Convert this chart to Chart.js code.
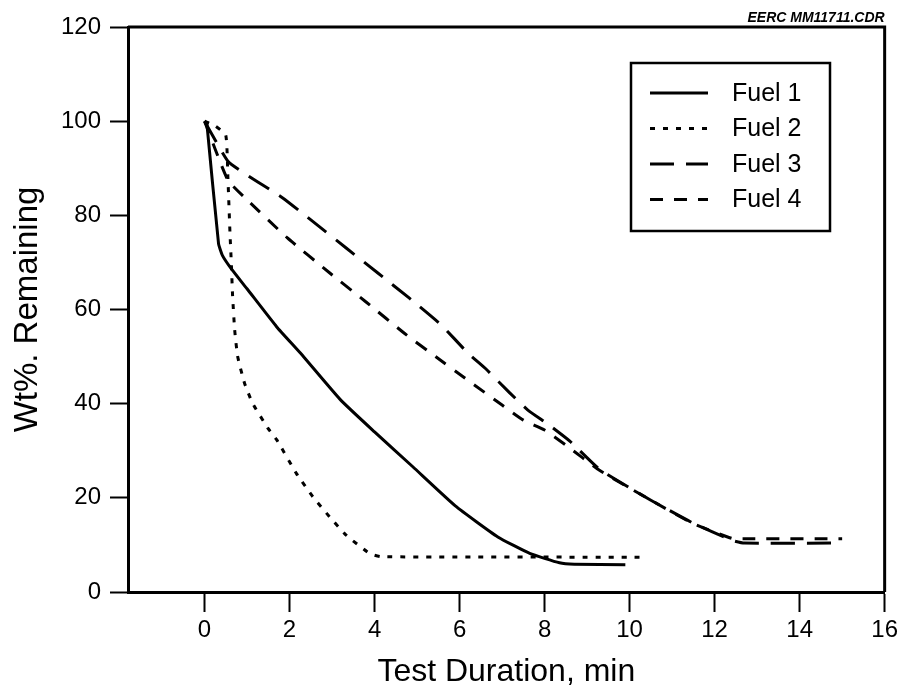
<!DOCTYPE html>
<html>
<head>
<meta charset="utf-8">
<script src="https://cdn.jsdelivr.net/npm/chart.js@4.4.1/dist/chart.umd.min.js"></script>
<style>
html,body{margin:0;padding:0;background:#fff;}
#c{display:block;}
</style>
</head>
<body>
<canvas id="c" width="902" height="696"></canvas>
<script>
// ---- data ----
const seriesNames = ["Fuel 1", "Fuel 2", "Fuel 3", "Fuel 4"];

const fuel1Time = [0.05, 0.33, 0.42, 0.65, 1.0, 1.7, 2.25, 3.2, 4.0, 4.9, 5.9, 6.9, 7.65, 8.35, 8.7, 9.9];
const fuel1Wt   = [100, 74, 71.5, 68.4, 64.4, 56.3, 50.8, 40.8, 34, 26.6, 18.3, 11.7, 8.2, 6.2, 5.9, 5.8];

const fuel2Time = [0, 0.25, 0.5, 0.55, 0.6, 0.63, 0.66, 0.71, 0.78, 0.94, 1.13, 1.49, 1.7, 2.16, 2.55, 2.94, 3.33, 3.88, 4.15, 10.25];
const fuel2Wt   = [100, 99, 97, 88, 76, 70, 63, 55.6, 50, 44.4, 40.1, 34.8, 32.3, 25.2, 20.2, 16, 12.1, 8.2, 7.5, 7.4];

const fuel3Time = [0, 0.55, 1.06, 1.84, 2.59, 3.34, 4.07, 4.82, 5.57, 6.19, 6.64, 7.18, 7.6, 8.1, 8.6, 9.3, 10.5, 11.5, 12.4, 12.7, 15];
const fuel3Wt   = [100, 91.5, 88.2, 83.7, 78.4, 73, 67.8, 62.4, 56.7, 50.8, 47.2, 42.3, 38.7, 35.5, 32, 26, 19.5, 14.6, 11, 10.4, 10.4];

const fuel4Time = [0, 0.55, 1.06, 1.95, 2.94, 3.8, 4.75, 5.45, 6.19, 7.0, 7.5, 8.0, 8.5, 9.3, 10.5, 11.5, 12.4, 12.7, 15];
const fuel4Wt   = [100, 87.5, 82.8, 75.2, 67.8, 61.6, 54.6, 49.9, 45, 39.7, 36.5, 34.4, 31.2, 25.8, 19.5, 14.5, 11.4, 11.3, 11.3];

const xTickValues = [0, 2, 4, 6, 8, 10, 12, 14, 16];
const yTickValues = [0, 20, 40, 60, 80, 100, 120];

const xTitle = "Test Duration, min";
const yTitle = "Wt%. Remaining";
const cornerNote = "EERC MM11711.CDR";

// ---- build ----
const FONT = "'Liberation Sans', Arial, Helvetica, sans-serif";
function pts(xs, ys){ return xs.map((x,i)=>({x:x, y:ys[i]})); }

const dashes = [[], [5,8], [24,12], [13,11]];
const timeArrays = [fuel1Time, fuel2Time, fuel3Time, fuel4Time];
const wtArrays = [fuel1Wt, fuel2Wt, fuel3Wt, fuel4Wt];

const datasets = seriesNames.map((n,i)=>({
  label: n,
  data: pts(timeArrays[i], wtArrays[i]),
  borderColor: '#000',
  borderWidth: 3,
  borderDash: dashes[i],
  borderCapStyle: 'butt',
  pointRadius: 0,
  fill: false,
  tension: 0.15
}));

const framePlugin = {
  id: 'frame',
  afterDraw(chart){
    const {ctx, chartArea:a} = chart;
    ctx.save();
    ctx.strokeStyle = '#000';
    ctx.lineWidth = 3;
    ctx.setLineDash([]);
    ctx.beginPath();
    ctx.moveTo(a.left, a.top);
    ctx.lineTo(a.right, a.top);
    ctx.lineTo(a.right, a.bottom);
    ctx.stroke();

    // corner note
    ctx.fillStyle = '#000';
    ctx.font = 'italic bold 14px ' + FONT;
    ctx.textAlign = 'right';
    ctx.textBaseline = 'alphabetic';
    ctx.fillText(cornerNote, a.right, 22);

    // legend box
    const bx = 631, by = 63, bw = 199, bh = 168;
    ctx.lineWidth = 2.5;
    ctx.strokeRect(bx, by, bw, bh);
    ctx.font = '25px ' + FONT;
    ctx.textAlign = 'left';
    chart.data.datasets.forEach((ds, i)=>{
      const ly = 93 + i*35.5;
      ctx.save();
      ctx.lineWidth = 3;
      ctx.setLineDash(ds.borderDash || []);
      ctx.beginPath();
      ctx.moveTo(650, ly);
      ctx.lineTo(708, ly);
      ctx.stroke();
      ctx.restore();
      ctx.fillText(ds.label, 732, ly + 7.5);
    });
    ctx.restore();
  }
};

new Chart(document.getElementById('c'), {
  type: 'line',
  data: { datasets },
  plugins: [framePlugin],
  options: {
    responsive: false,
    animation: false,
    devicePixelRatio: 1,
    layout: { padding: { top: 27, right: 15, left: 0, bottom: 0 } },
    plugins: { legend: { display: false }, tooltip: { enabled: false } },
    scales: {
      x: {
        type: 'linear',
        min: -1.8,
        max: 16,
        afterBuildTicks(s){ s.ticks = xTickValues.map(v => ({ value: v })); },
        afterFit(s){ s.height = 104; },
        ticks: { color: '#000', font: { family: FONT, size: 24 }, padding: 4, maxRotation: 0, autoSkip: false },
        grid: { drawOnChartArea: false, drawTicks: true, tickLength: 20, tickWidth: 2, color: '#000' },
        border: { display: true, color: '#000', width: 3 },
        title: { display: true, text: xTitle, color: '#000', font: { family: FONT, size: 32, lineHeight: 1.2 }, padding: { top: 0, bottom: 5 } }
      },
      y: {
        type: 'linear',
        min: 0,
        max: 120,
        afterBuildTicks(s){ s.ticks = yTickValues.map(v => ({ value: v })); },
        afterFit(s){ s.width = 128; },
        ticks: { color: '#000', font: { family: FONT, size: 24 }, padding: 9 },
        grid: { drawOnChartArea: false, drawTicks: true, tickLength: 18, tickWidth: 2, color: '#000' },
        border: { display: true, color: '#000', width: 3 },
        title: { display: true, text: yTitle, color: '#000', font: { family: FONT, size: 33, lineHeight: 1.2 }, padding: { top: 8, bottom: 0 } }
      }
    }
  }
});
</script>
</body>
</html>
